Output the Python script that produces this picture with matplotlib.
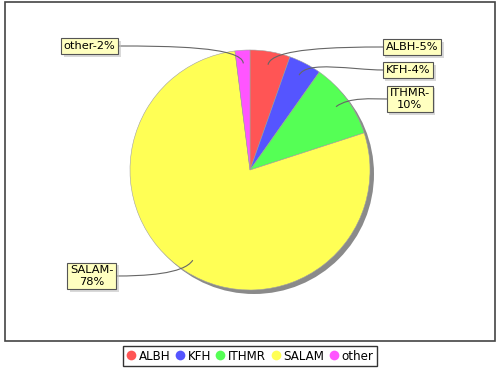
import numpy as np
import matplotlib
matplotlib.use("Agg")
import matplotlib.pyplot as plt
from matplotlib.path import Path
from matplotlib.patches import PathPatch, Circle, Rectangle
from matplotlib.lines import Line2D
from matplotlib import patheffects as pe

categories = ["ALBH", "KFH", "ITHMR", "SALAM", "other"]
values = [5.4, 4.4, 10.2, 78.0, 2.0]
label_texts = ["ALBH-5%", "KFH-4%", "ITHMR-\n10%", "SALAM-\n78%", "other-2%"]
colors = ["#FF5555", "#5555FF", "#55FF55", "#FFFF55", "#FF55FF"]

W, H = 500, 370
fig = plt.figure(figsize=(5, 3.7), dpi=100)
ax = fig.add_axes([0, 0, 1, 1])

def Y(y):
    return H - y

cx, cy, R = 250, 170, 120
# shadow
ax.add_patch(Circle((cx + 4, Y(cy) - 4), R, facecolor="#8a8a8a", edgecolor="none", zorder=2))

wedges, _ = ax.pie(values, colors=colors, startangle=90, counterclock=False,
                   center=(cx, Y(cy)), radius=R, frame=True,
                   wedgeprops=dict(edgecolor="#a0a0a0", linewidth=0.4))
for w in wedges:
    w.set_zorder(3)
ax.set_xlim(0, W)
ax.set_ylim(0, H)
ax.set_aspect("equal")
ax.axis("off")

# plot area outline
ax.add_patch(Rectangle((5, Y(341)), 490, 339, fill=False, edgecolor="#444444", lw=1.2, zorder=1))

# label link edge points (pixel coords from top-left) and side
label_pos = [
    (383, 47, "left"),
    (383, 70, "left"),
    (387, 99, "left"),
    (116, 276, "right"),
    (118, 46, "right"),
]

total = sum(values)
cum = 0
fs = 8.2
for v, txt, (lx, ly, side) in zip(values, label_texts, label_pos):
    mid = cum + v / 2
    cum += v
    ang = np.deg2rad(90 - 360 * mid / total)
    ax_x = cx + 0.89 * R * np.cos(ang)
    ax_y = Y(cy) + 0.89 * R * np.sin(ang)
    ex_x = cx + 1.03 * R * np.cos(ang)
    ex_y = Y(cy) + 1.03 * R * np.sin(ang)
    p0 = (lx, Y(ly))
    p1 = (lx + (ex_x - lx) * 0.4, Y(ly))
    p2 = (ex_x, ex_y)
    p3 = (ax_x, ax_y)
    path = Path([p0, p1, p2, p3], [Path.MOVETO, Path.CURVE4, Path.CURVE4, Path.CURVE4])
    ax.add_patch(PathPatch(path, facecolor="none", edgecolor="#666666", lw=0.8, zorder=6))
    ha = "left" if side == "left" else "right"
    tx = lx + 2.5 if side == "left" else lx - 2.5
    t = ax.text(tx, Y(ly), txt, ha=ha, va="center", fontsize=fs, family="DejaVu Sans",
                multialignment="center", linespacing=1.15, zorder=8,
                bbox=dict(boxstyle="square,pad=0.25", facecolor="#FFFFC0",
                          edgecolor="#555555", lw=0.8))
    t.get_bbox_patch().set_path_effects([
        pe.SimplePatchShadow(offset=(2, -2), shadow_rgbFace="#c0c0c0", alpha=0.6),
        pe.Normal()])

handles = [Line2D([0], [0], marker="o", color="none", markerfacecolor=c, markeredgecolor="none",
                  markersize=7) for c in colors]
leg = fig.legend(handles, categories, loc="center", bbox_to_anchor=(250 / W, 1 - 356 / H),
                 ncol=5, frameon=True, fancybox=False, edgecolor="black", fontsize=8.6,
                 handlelength=0.7, handletextpad=0.3, columnspacing=0.45, borderpad=0.3,
                 borderaxespad=0)
leg.get_frame().set_linewidth(1.0)

fig.savefig("out.png", dpi=100)
